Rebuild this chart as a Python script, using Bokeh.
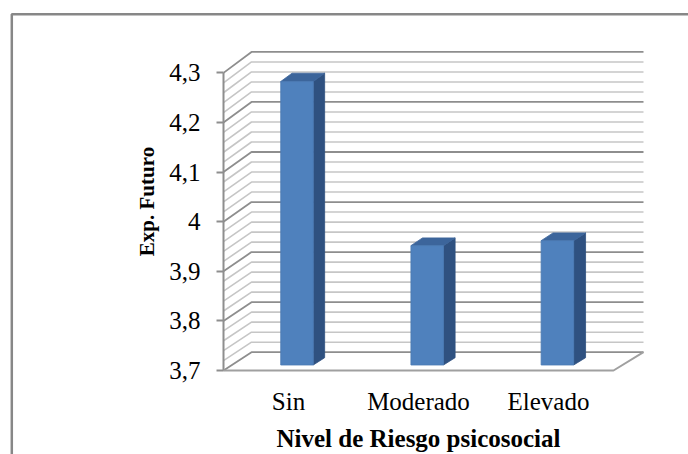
import math

from bokeh.embed import file_html
from bokeh.models import CustomJSTickFormatter, FixedTicker, Label, LinearAxis, Range1d
from bokeh.plotting import figure
from bokeh.resources import INLINE

# ---- data -------------------------------------------------------------
CATEGORIES = ["Sin", "Moderado", "Elevado"]
EXP_FUTURO = [4.27, 3.94, 3.95]
Y_TICKS = [3.7, 3.8, 3.9, 4.0, 4.1, 4.2, 4.3]
Y_TICK_LABELS = ["3,7", "3,8", "3,9", "4", "4,1", "4,2", "4,3"]
Y_MIN, Y_MAX = 3.7, 4.3
MINOR_STEP = 0.02

# ---- canvas geometry (pixel anchors of the front plane) ---------------
W, H = 688, 454
FRONT_X0 = 223.0        # pixel x of the front-left corner (x = 0)
PX_PER_CAT = 130.0      # pixels per category slot
FRONT_Y_BASE = 370.0    # pixel y of Y_MIN on the front plane
PX_PER_UNIT = 496.0     # pixels per value unit on the front plane


def dx(px):
    return (px - FRONT_X0) / PX_PER_CAT


def dy(py):
    return Y_MIN + (FRONT_Y_BASE - py) / PX_PER_UNIT


# depth (oblique) projection: d = 0 front plane, d = 1 back wall
DEPTH_DX = 28.0 / PX_PER_CAT
DEPTH_DY = 18.3 / PX_PER_UNIT
GROW_X = 2.0 / 390.0
GROW_Y = 0.009


def project(x, v, d):
    return (x * (1 + d * GROW_X) + d * DEPTH_DX,
            Y_MIN + (v - Y_MIN) * (1 + d * GROW_Y) + d * DEPTH_DY)


n_cat = len(CATEGORIES)

p = figure(width=W, height=H, output_backend="svg", toolbar_location=None,
           x_range=Range1d(dx(0), dx(W)), y_range=Range1d(dy(H), dy(0)),
           x_axis_location=None, y_axis_location=None, min_border=0,
           outline_line_color=None, background_fill_color="white",
           border_fill_color="white")
p.grid.visible = False

# ---- outer chart border -------------------------------------------------
p.line([dx(11.3), dx(11.3), dx(W + 20)], [dy(H + 20), dy(13.7), dy(13.7)],
       line_color="#878787", line_width=2.5)

# ---- walls: gridlines on back wall + left side wall ---------------------
n_minor = int(round((Y_MAX - Y_MIN) / MINOR_STEP))
grid_vals = [round(Y_MIN + k * MINOR_STEP, 2) for k in range(n_minor + 1)]
major_set = {round(t, 2) for t in Y_TICKS}

minor_xs, minor_ys, major_xs, major_ys = [], [], [], []
for v in grid_vals:
    fx, fy = project(0, v, 0)
    bx, by = project(0, v, 1)
    rx, ry = project(n_cat, v, 1)
    if v in major_set:
        major_xs.append([fx, bx, rx]); major_ys.append([fy, by, ry])
    else:
        minor_xs.append([fx, bx, rx]); minor_ys.append([fy, by, ry])

p.multi_line(minor_xs, minor_ys, line_color="#c6c6c6", line_width=1.6)
p.multi_line(major_xs, major_ys, line_color="#8e8e8e", line_width=1.8)

# front vertical axis line and floor edges
ax0 = project(0, Y_MIN, 0)
ax1 = project(0, Y_MAX, 0)
p.line([ax0[0], ax1[0]], [ax0[1], ax1[1]], line_color="#8e8e8e", line_width=2)
fr = project(n_cat, Y_MIN, 0)
br = project(n_cat, Y_MIN, 1)
p.line([ax0[0], fr[0], br[0]], [ax0[1], fr[1], br[1]],
       line_color="#a0a0a0", line_width=2)

# ---- 3D bars --------------------------------------------------------------
D_FRONT, D_BACK = 0.3, 0.7
HALF_W = 0.125

front_x, front_y, side_x, side_y, top_x, top_y = [], [], [], [], [], []
for i, val in enumerate(EXP_FUTURO):
    xl, xr = i + 0.5 - HALF_W, i + 0.5 + HALF_W
    flb = project(xl, Y_MIN, D_FRONT)
    frb = project(xr, Y_MIN, D_FRONT)
    flt = project(xl, val, D_FRONT)
    frt = project(xr, val, D_FRONT)
    brb = project(xr, Y_MIN, D_BACK)
    brt = project(xr, val, D_BACK)
    blt = project(xl, val, D_BACK)
    front_x.append([flb[0], frb[0], frt[0], flt[0]])
    front_y.append([flb[1], frb[1], frt[1], flt[1]])
    side_x.append([frb[0], brb[0], brt[0], frt[0]])
    side_y.append([frb[1], brb[1], brt[1], frt[1]])
    top_x.append([flt[0], frt[0], brt[0], blt[0]])
    top_y.append([flt[1], frt[1], brt[1], blt[1]])

p.patches(side_x, side_y, fill_color="#2f5180", line_color="#2f5180", line_width=0.8)
p.patches(top_x, top_y, fill_color="#3c659b", line_color="#3c659b", line_width=0.8)
p.patches(front_x, front_y, fill_color="#4f81bd", line_color="#4a7ab4", line_width=0.8)

# ---- axes -----------------------------------------------------------------
y_axis = LinearAxis(
    fixed_location=0,
    ticker=FixedTicker(ticks=Y_TICKS),
    formatter=CustomJSTickFormatter(
        args=dict(vals=Y_TICKS, labels=Y_TICK_LABELS),
        code="const i = vals.findIndex(v => Math.abs(v - tick) < 1e-9);"
             "return i >= 0 ? labels[i] : '';"),
    axis_line_color=None,
    major_tick_line_color="#8e8e8e", major_tick_line_width=2,
    major_tick_out=7, major_tick_in=0,
    minor_tick_line_color=None,
    major_label_text_font="Liberation Serif",
    major_label_text_font_size="25px",
    major_label_text_color="black",
    major_label_standoff=16,
)
p.add_layout(y_axis, "left")

cat_pos = [i + 0.5 for i in range(n_cat)]
x_axis = LinearAxis(
    fixed_location=Y_MIN,
    ticker=FixedTicker(ticks=cat_pos),
    formatter=CustomJSTickFormatter(
        args=dict(vals=cat_pos, labels=CATEGORIES),
        code="const i = vals.findIndex(v => Math.abs(v - tick) < 1e-9);"
             "return i >= 0 ? labels[i] : '';"),
    axis_line_color=None,
    major_tick_line_color=None, minor_tick_line_color=None,
    major_label_text_font="Liberation Serif",
    major_label_text_font_size="25px",
    major_label_text_color="black",
    major_label_standoff=11,
)
p.add_layout(x_axis, "below")

# ---- axis titles ------------------------------------------------------------
p.add_layout(Label(x=dx(418), y=dy(438), text="Nivel de Riesgo psicosocial",
                   text_align="center", text_baseline="middle",
                   text_font="Liberation Serif", text_font_style="bold",
                   text_font_size="25px", text_color="black"))
p.add_layout(Label(x=dx(146), y=dy(201), text="Exp. Futuro", angle=math.pi / 2,
                   text_align="center", text_baseline="middle",
                   text_font="Liberation Serif", text_font_style="bold",
                   text_font_size="21px", text_color="black"))

open("out.html", "w").write(file_html(p, INLINE))
